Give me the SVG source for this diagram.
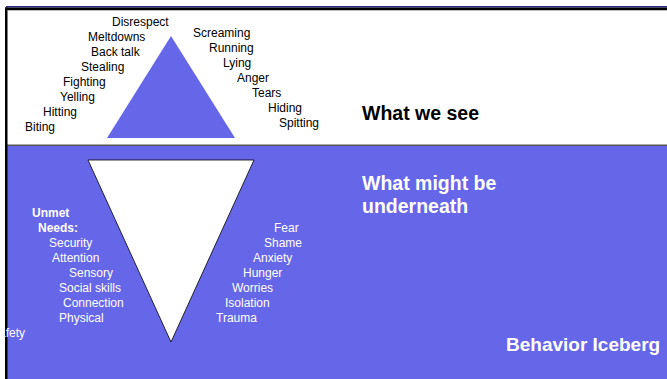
<svg xmlns="http://www.w3.org/2000/svg" width="667" height="379" viewBox="0 0 667 379">
  <style>
    .t { font-family: "Liberation Sans", Arial, sans-serif; font-size: 12px; fill: #000; }
    .w { font-family: "Liberation Sans", Arial, sans-serif; font-size: 12px; fill: #fff; }
    .wb { font-family: "Liberation Sans", Arial, sans-serif; font-size: 12px; font-weight: bold; fill: #fff; }
    .h { font-family: "Liberation Sans", Arial, sans-serif; font-size: 19px; font-weight: bold; }
  </style>
  <rect x="0" y="0" width="667" height="379" fill="#fff"/>
  <g id="sea">
    <rect x="6" y="146" width="661" height="233" fill="#6666E8"/>
    <rect x="6" y="144.5" width="661" height="1.5" fill="#555"/>
  </g>
  <g id="frame">
    <rect x="6" y="6" width="661" height="1.5" fill="#2b2b8c"/>
    <rect x="5" y="7.5" width="662" height="2.5" fill="#000"/>
    <rect x="8" y="10" width="659" height="1" fill="#bbb"/>
    <rect x="5" y="7.5" width="2.5" height="372" fill="#000"/>
  </g>
  <g id="tip">
    <polygon points="171,36 107,138 235,138" fill="#6666E8"/>
  </g>
  <g id="underwater">
    <polygon points="88,160 254,160 171,342" fill="#fff" stroke="#000" stroke-width="0.8"/>
  </g>
  <g id="seen-left">
    <text class="t" x="112" y="26">Disrespect</text>
    <text class="t" x="88" y="41">Meltdowns</text>
    <text class="t" x="91" y="56">Back talk</text>
    <text class="t" x="81" y="71">Stealing</text>
    <text class="t" x="63" y="86">Fighting</text>
    <text class="t" x="60" y="101">Yelling</text>
    <text class="t" x="43" y="116">Hitting</text>
    <text class="t" x="25" y="131">Biting</text>
  </g>
  <g id="seen-right">
    <text class="t" x="193" y="37">Screaming</text>
    <text class="t" x="209" y="52">Running</text>
    <text class="t" x="223" y="67">Lying</text>
    <text class="t" x="237" y="82">Anger</text>
    <text class="t" x="252" y="97">Tears</text>
    <text class="t" x="268" y="112">Hiding</text>
    <text class="t" x="279" y="127">Spitting</text>
  </g>
  <g id="needs">
    <text class="wb" x="32" y="217">Unmet</text>
    <text class="wb" x="38" y="232">Needs:</text>
    <text class="w" x="49" y="247">Security</text>
    <text class="w" x="52" y="262">Attention</text>
    <text class="w" x="69" y="277">Sensory</text>
    <text class="w" x="59" y="292">Social skills</text>
    <text class="w" x="63" y="307">Connection</text>
    <text class="w" x="59" y="322">Physical</text>
    <text class="w" x="-9" y="337">Safety</text>
  </g>
  <g id="feelings">
    <text class="w" x="274" y="232">Fear</text>
    <text class="w" x="264" y="247">Shame</text>
    <text class="w" x="253" y="262">Anxiety</text>
    <text class="w" x="243" y="277">Hunger</text>
    <text class="w" x="232" y="292">Worries</text>
    <text class="w" x="225" y="307">Isolation</text>
    <text class="w" x="216" y="322">Trauma</text>
  </g>
  <g id="labels">
    <text class="h" x="362" y="120" fill="#000" style="font-size:19.5px">What we see</text>
    <text class="h" x="362" y="190" fill="#fff" style="font-size:19.5px">What might be</text>
    <text class="h" x="362" y="213" fill="#fff" style="font-size:19.5px">underneath</text>
    <text class="h" x="506" y="351" fill="#fff">Behavior Iceberg</text>
  </g>
</svg>
